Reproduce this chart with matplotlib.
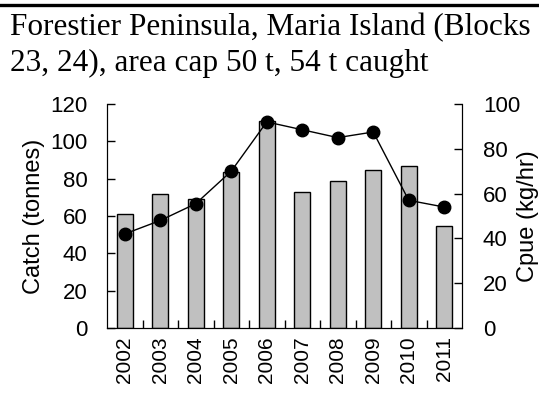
import matplotlib
matplotlib.use("Agg")
import matplotlib.pyplot as plt
from matplotlib.lines import Line2D

years = ["2002", "2003", "2004", "2005", "2006", "2007", "2008", "2009", "2010", "2011"]
catch = [61, 72, 69, 83.5, 111, 73, 78.5, 84.5, 87, 54.5]
cpue = [42, 48, 55.5, 70, 92, 88.5, 85, 87.5, 57, 54]

plt.rcParams['font.family'] = ['Liberation Sans', 'DejaVu Sans']

fig = plt.figure(figsize=(5.39, 4.05), dpi=100)
fig.add_artist(Line2D([0, 1], [1 - 5 / 405, 1 - 5 / 405], color='black', lw=2.4,
                      transform=fig.transFigure))
fig.text(10 / 539, 1 - 35 / 405, "Forestier Peninsula, Maria Island (Blocks",
         family='Liberation Serif', fontsize=22.5, va='baseline')
fig.text(10 / 539, 1 - 70.5 / 405, "23, 24), area cap 50 t, 54 t caught",
         family='Liberation Serif', fontsize=22.5, va='baseline')

ax = fig.add_axes([107 / 539, 77 / 405, 355 / 539, 224 / 405])
x = list(range(len(years)))
ax.bar(x, catch, width=0.44, color='#c0c0c0', edgecolor='black', linewidth=1, zorder=2)
ax.set_xlim(-0.5, len(years) - 0.5)
ax.set_ylim(0, 120)
ax.set_yticks([0, 20, 40, 60, 80, 100, 120])
ax.set_xticks(x)
ax.set_xticklabels(years, rotation=90)
ax.set_xticks([i + 0.5 for i in x[:-1]], minor=True)
ax.tick_params(axis='x', which='major', length=0, pad=6, labelsize=15)
ax.tick_params(axis='x', which='minor', direction='in', length=6, width=1)
ax.tick_params(axis='y', direction='in', length=6, width=1, pad=14, labelsize=16)
ax.spines['top'].set_visible(False)
ax.set_ylabel("Catch (tonnes)", fontsize=17, labelpad=4)

ax2 = ax.twinx()
ax2.plot(x, cpue, color='black', lw=1, marker='o', markersize=9, zorder=3)
ax2.set_ylim(0, 100)
ax2.set_yticks([0, 20, 40, 60, 80, 100])
ax2.tick_params(axis='y', direction='in', length=6, width=1, pad=15, labelsize=16)
ax2.spines['top'].set_visible(False)
ax2.set_ylabel("Cpue (kg/hr)", fontsize=17, labelpad=-2)

fig.savefig("out.png", dpi=100)
